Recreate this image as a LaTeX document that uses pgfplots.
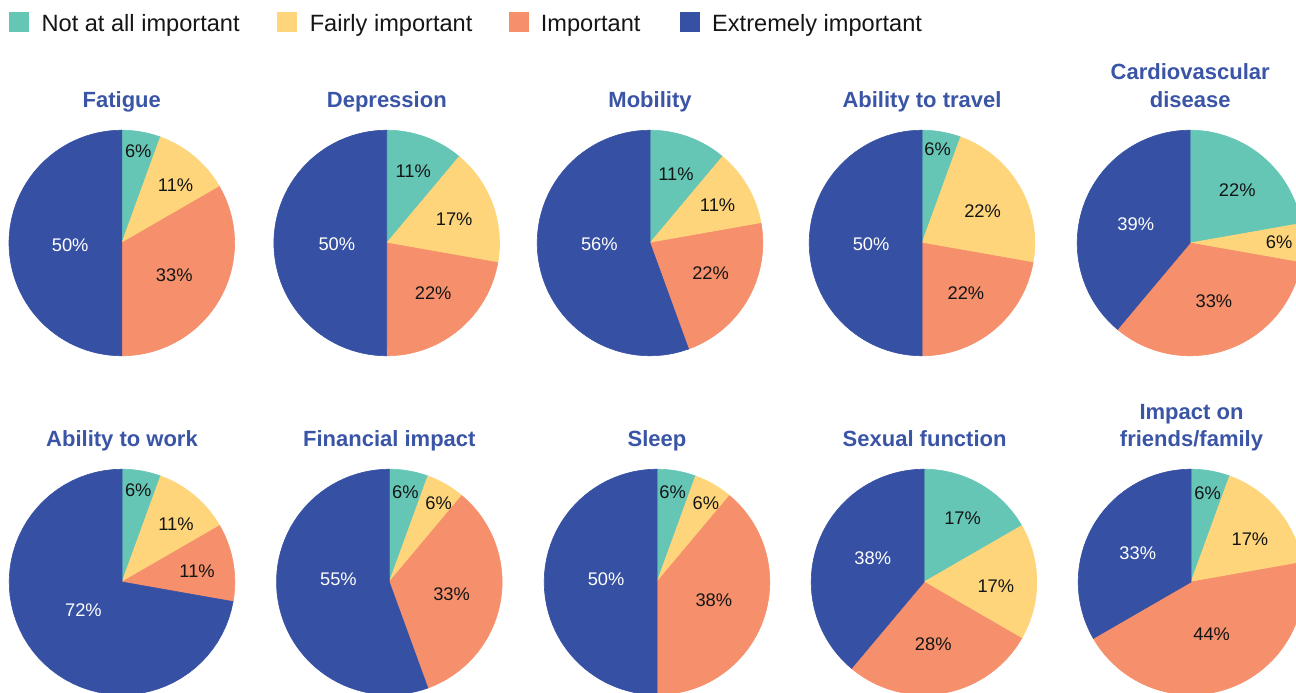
\documentclass[border=0pt]{standalone}
\usepackage{pgfplots}
\pgfplotsset{compat=1.18}
\usepackage{fontspec}
\setmainfont{Liberation Sans}
\definecolor{cA}{HTML}{66C6B6}
\definecolor{cB}{HTML}{FED57A}
\definecolor{cC}{HTML}{F58F6C}
\definecolor{cD}{HTML}{3650A3}
\definecolor{ttl}{HTML}{3A55A6}
\definecolor{ink}{HTML}{151515}
\newcommand{\lblfont}{\fontsize{9.15}{11}\selectfont}
\newcommand{\ttlfont}{\fontsize{11}{13}\selectfont\bfseries}
\newcommand{\legfont}{\fontsize{11.8}{14}\selectfont}
% one slice: colour, cumulative start %, cumulative end % (clockwise from top)
\newcommand{\slice}[3]{\addplot[fill=#1, draw=#1, line width=0.3pt, data cs=polar,
  domain=90-3.6*#3:90-3.6*#2, samples=60, variable=\t] ({\t},{1}) -- (axis cs:0,0) -- cycle;}
\pgfplotsset{
  pie/.style={anchor=center, x=56.4pt, y=56.4pt, xmin=-1, xmax=1, ymin=-1, ymax=1,
    hide axis, clip=false},
  lbl/.style={only marks, mark=none, nodes near coords, point meta=explicit symbolic,
    nodes near coords align=center,
    every node near coord/.append style={font=\lblfont, text=#1, inner sep=0pt, anchor=center}},
}
\begin{document}
\begin{tikzpicture}
\begin{scope}
\clip (0,0) rectangle (648pt,346pt);
% legend
\fill[cA] (4.5pt,330.15pt) rectangle (14.5pt,339.85pt);
\node[anchor=base west, inner sep=0pt, font=\legfont, text=ink] at (20.6pt,330.15pt) {Not at all important};
\fill[cB] (138.65pt,330.15pt) rectangle (148.35pt,339.85pt);
\node[anchor=base west, inner sep=0pt, font=\legfont, text=ink] at (154.7pt,330.15pt) {Fairly important};
\fill[cC] (254.65pt,330.15pt) rectangle (264.5pt,339.85pt);
\node[anchor=base west, inner sep=0pt, font=\legfont, text=ink] at (270.2pt,330.15pt) {Important};
\fill[cD] (340pt,330.15pt) rectangle (350pt,339.85pt);
\node[anchor=base west, inner sep=0pt, font=\legfont, text=ink] at (355.9pt,330.15pt) {Extremely important};

% titles
\node[anchor=base, inner sep=0pt, font=\ttlfont, text=ttl] at (60.9pt,292.25pt) {Fatigue};
\node[anchor=base, inner sep=0pt, font=\ttlfont, text=ttl] at (193.4pt,292.25pt) {Depression};
\node[anchor=base, inner sep=0pt, font=\ttlfont, text=ttl] at (325pt,292.25pt) {Mobility};
\node[anchor=base, inner sep=0pt, font=\ttlfont, text=ttl] at (461pt,292.25pt) {Ability to travel};
\node[anchor=base, inner sep=0pt, font=\ttlfont, text=ttl] at (595.1pt,306.35pt) {Cardiovascular};
\node[anchor=base, inner sep=0pt, font=\ttlfont, text=ttl] at (595.1pt,292.25pt) {disease};
\node[anchor=base, inner sep=0pt, font=\ttlfont, text=ttl] at (61pt,123pt) {Ability to work};
\node[anchor=base, inner sep=0pt, font=\ttlfont, text=ttl] at (194.65pt,123pt) {Financial impact};
\node[anchor=base, inner sep=0pt, font=\ttlfont, text=ttl] at (328.5pt,123pt) {Sleep};
\node[anchor=base, inner sep=0pt, font=\ttlfont, text=ttl] at (462.3pt,123pt) {Sexual function};
\node[anchor=base, inner sep=0pt, font=\ttlfont, text=ttl] at (595.75pt,136.35pt) {Impact on};
\node[anchor=base, inner sep=0pt, font=\ttlfont, text=ttl] at (595.75pt,123pt) {friends/family};

% ---- Row 1 ----
% Fatigue: 5.56 / 11.11 / 33.33 / 50
\begin{axis}[pie, at={(60.9pt,224.5pt)}]
\slice{cA}{0}{5.556}\slice{cB}{5.556}{16.667}\slice{cC}{16.667}{50}\slice{cD}{50}{100}
\addplot[lbl=ink] coordinates {(0.146,0.813)[6\%] (0.477,0.511)[11\%] (0.465,-0.286)[33\%]};
\addplot[lbl=white] coordinates {(-0.458,-0.020)[50\%]};
\end{axis}
% Depression: 11.11 / 16.67 / 22.22 / 50
\begin{axis}[pie, at={(193.35pt,224.5pt)}]
\slice{cA}{0}{11.111}\slice{cB}{11.111}{27.778}\slice{cC}{27.778}{50}\slice{cD}{50}{100}
\addplot[lbl=ink] coordinates {(0.235,0.637)[11\%] (0.598,0.207)[17\%] (0.412,-0.448)[22\%]};
\addplot[lbl=white] coordinates {(-0.442,-0.014)[50\%]};
\end{axis}
% Mobility: 11.11 / 11.11 / 22.22 / 55.56
\begin{axis}[pie, at={(325pt,224.5pt)}]
\slice{cA}{0}{11.111}\slice{cB}{11.111}{22.222}\slice{cC}{22.222}{44.444}\slice{cD}{44.444}{100}
\addplot[lbl=ink] coordinates {(0.230,0.608)[11\%] (0.599,0.331)[11\%] (0.537,-0.271)[22\%]};
\addplot[lbl=white] coordinates {(-0.449,-0.014)[56\%]};
\end{axis}
% Ability to travel: 5.56 / 22.22 / 22.22 / 50
\begin{axis}[pie, at={(461pt,224.5pt)}]
\slice{cA}{0}{5.556}\slice{cB}{5.556}{27.778}\slice{cC}{27.778}{50}\slice{cD}{50}{100}
\addplot[lbl=ink] coordinates {(0.139,0.832)[6\%] (0.537,0.286)[22\%] (0.389,-0.442)[22\%]};
\addplot[lbl=white] coordinates {(-0.451,-0.009)[50\%]};
\end{axis}
% Cardiovascular disease: 22.22 / 5.56 / 33.33 / 38.89
\begin{axis}[pie, at={(595pt,224.5pt)}]
\slice{cA}{0}{22.222}\slice{cB}{22.222}{27.778}\slice{cC}{27.778}{61.111}\slice{cD}{61.111}{100}
\addplot[lbl=ink] coordinates {(0.419,0.472)[22\%] (0.790,0.009)[6\%] (0.212,-0.517)[33\%]};
\addplot[lbl=white] coordinates {(-0.481,0.171)[39\%]};
\end{axis}

% ---- Row 2 ----
% Ability to work: 5.56 / 11.11 / 11.11 / 72.22
\begin{axis}[pie, at={(61pt,55pt)}]
\slice{cA}{0}{5.556}\slice{cB}{5.556}{16.667}\slice{cC}{16.667}{27.778}\slice{cD}{27.778}{100}
\addplot[lbl=ink] coordinates {(0.144,0.811)[6\%] (0.478,0.516)[11\%] (0.666,0.097)[11\%]};
\addplot[lbl=white] coordinates {(-0.342,-0.251)[72\%]};
\end{axis}
% Financial impact: 5.56 / 5.56 / 33.33 / 55.56
\begin{axis}[pie, at={(194.65pt,55pt)}]
\slice{cA}{0}{5.556}\slice{cB}{5.556}{11.111}\slice{cC}{11.111}{44.444}\slice{cD}{44.444}{100}
\addplot[lbl=ink] coordinates {(0.142,0.799)[6\%] (0.437,0.696)[6\%] (0.552,-0.109)[33\%]};
\addplot[lbl=white] coordinates {(-0.451,0.024)[55\%]};
\end{axis}
% Sleep: 5.56 / 5.56 / 38.89 / 50
\begin{axis}[pie, at={(328.5pt,55pt)}]
\slice{cA}{0}{5.556}\slice{cB}{5.556}{11.111}\slice{cC}{11.111}{50}\slice{cD}{50}{100}
\addplot[lbl=ink] coordinates {(0.139,0.799)[6\%] (0.434,0.696)[6\%] (0.504,-0.159)[38\%]};
\addplot[lbl=white] coordinates {(-0.451,0.024)[50\%]};
\end{axis}
% Sexual function: 16.67 / 16.67 / 27.78 / 38.89
\begin{axis}[pie, at={(462pt,55pt)}]
\slice{cA}{0}{16.667}\slice{cB}{16.667}{33.333}\slice{cC}{33.333}{61.111}\slice{cD}{61.111}{100}
\addplot[lbl=ink] coordinates {(0.342,0.564)[17\%] (0.637,-0.033)[17\%] (0.082,-0.551)[28\%]};
\addplot[lbl=white] coordinates {(-0.454,0.215)[38\%]};
\end{axis}
% Impact on friends/family: 5.56 / 16.67 / 44.44 / 33.33
\begin{axis}[pie, at={(595.5pt,55pt)}]
\slice{cA}{0}{5.556}\slice{cB}{5.556}{22.222}\slice{cC}{22.222}{66.667}\slice{cD}{66.667}{100}
\addplot[lbl=ink] coordinates {(0.148,0.786)[6\%] (0.522,0.382)[17\%] (0.183,-0.467)[44\%]};
\addplot[lbl=white] coordinates {(-0.472,0.258)[33\%]};
\end{axis}
\end{scope}
\pgfresetboundingbox
\useasboundingbox (0,0) rectangle (648pt,346pt);
\end{tikzpicture}
\end{document}
